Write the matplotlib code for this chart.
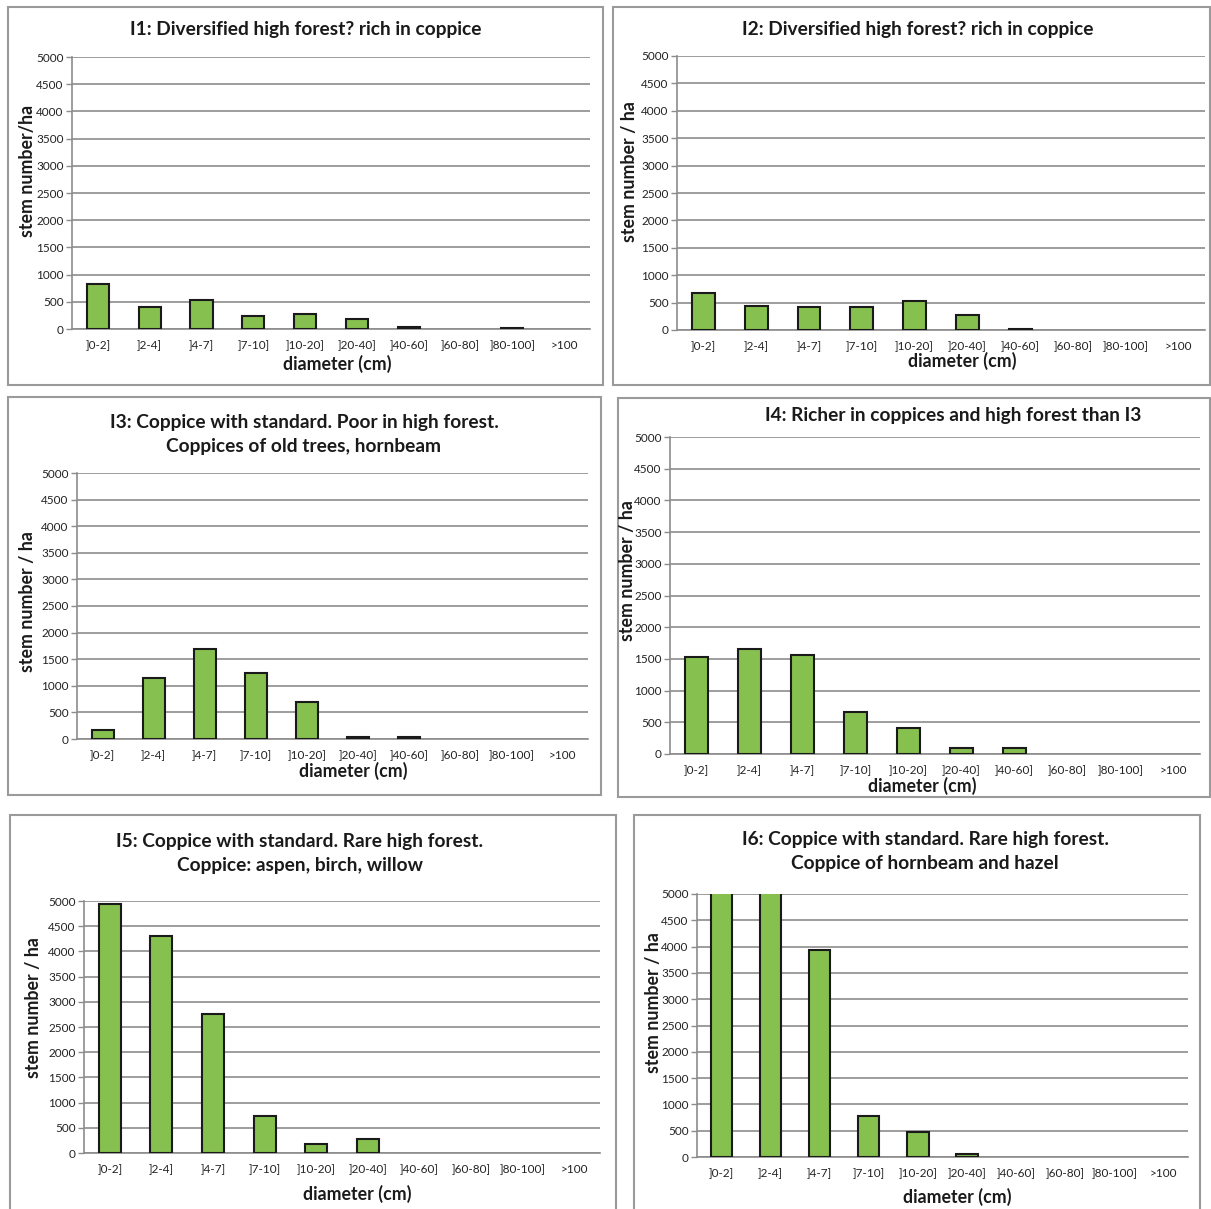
import numpy as np
import matplotlib
matplotlib.use("Agg")
import matplotlib.pyplot as plt
from matplotlib.patches import Rectangle

plt.rcParams['font.family'] = ['Lato', 'DejaVu Sans']

# diameter classes
classes = [']0-2]', ']2-4]', ']4-7]', ']7-10]', ']10-20]', ']20-40]',
           ']40-60]', ']60-80]', ']80-100]', '>100']

# stem number per ha
i1 = [830, 400, 540, 230, 280, 190, 40, 0, 15, 0]
i2 = [680, 440, 425, 425, 525, 280, 25, 0, 0, 0]
i3 = [160, 1150, 1690, 1240, 700, 30, 30, 0, 0, 0]
i4 = [1530, 1650, 1560, 670, 410, 90, 90, 0, 0, 0]
i5 = [4950, 4310, 2750, 730, 180, 270, 0, 0, 0, 0]
i6 = [5600, 5300, 3940, 780, 480, 60, 0, 0, 0, 0]   # first two go off the scale

titles = ['I1: Diversified high forest? rich in coppice',
          'I2: Diversified high forest? rich in coppice',
          'I3: Coppice with standard. Poor in high forest.\nCoppices of old trees, hornbeam',
          'I4: Richer in coppices and high forest than I3',
          'I5: Coppice with standard. Rare high forest.\nCoppice: aspen, birch, willow',
          'I6: Coppice with standard. Rare high forest.\nCoppice of hornbeam and hazel']
ylabels = ['stem number/ha', 'stem number / ha', 'stem number / ha',
           'stem number / ha', 'stem number / ha', 'stem number / ha']
yticks = [0, 500, 1000, 1500, 2000, 2500, 3000, 3500, 4000, 4500, 5000]

W, H = 1211, 1209
fig = plt.figure(figsize=(W / 100, H / 100), dpi=100)

def fx(x):
    return x / W

def fy(y):
    return 1 - y / H

# layout in pixels: axes (left, right, top, bottom), box (x0, y0, x1, y1),
# title centre (x, y), ylabel (x, y), xlabel (x, y)
layout = [
    dict(ax=(72, 590, 57, 329), box=(8, 7, 603, 385), t=(306, 30), yl=(27, 171), xl=(337, 364)),
    dict(ax=(677, 1205, 56, 330), box=(613, 7, 1210, 385), t=(918, 30), yl=(630, 172), xl=(962, 361)),
    dict(ax=(77, 588, 473, 739), box=(8, 397, 601, 795), t=(304, 434), yl=(27, 602), xl=(353, 771)),
    dict(ax=(670, 1200, 437, 754), box=(618, 398, 1210, 797), t=(953, 416), yl=(627, 571), xl=(922, 786)),
    dict(ax=(84, 600, 901, 1153), box=(10, 815, 616, 1215), t=(300, 854), yl=(34, 1008), xl=(357, 1194)),
    dict(ax=(697, 1188, 894, 1157), box=(634, 815, 1200, 1215), t=(925, 851), yl=(654, 1003), xl=(957, 1197)),
]

data = [i1, i2, i3, i4, i5, i6]
x = np.arange(len(classes))

for k in range(6):
    L = layout[k]
    l, r, t, b = L['ax']
    ax = fig.add_axes([fx(l), fy(b), fx(r - l), (b - t) / H])
    ax.set_axisbelow(True)
    ax.yaxis.grid(True, color='#8c8c8c', linewidth=1.2)
    lw = [1.5 if v > 0 else 0 for v in data[k]]
    ax.bar(x, data[k], width=0.43, color='#86c04e', edgecolor='#1a1a1a', linewidth=lw, zorder=3)
    ax.set_xlim(-0.5, 9.5)
    ax.set_ylim(0, 5000)
    ax.set_yticks(yticks)
    ax.set_xticks(x)
    ax.set_xticklabels(classes)
    ax.tick_params(axis='x', length=0, labelsize=8.5, pad=8, colors='#222222')
    ax.tick_params(axis='y', length=4, width=1, color='#8c8c8c', labelsize=8.5, pad=2, labelcolor='#222222')
    for s in ['top', 'right']:
        ax.spines[s].set_visible(False)
    ax.spines['left'].set_color('#8c8c8c')
    ax.spines['bottom'].set_color('#8c8c8c')
    ax.spines['left'].set_linewidth(1.2)
    ax.spines['bottom'].set_linewidth(1.2)

    x0, y0, x1, y1 = L['box']
    fig.patches.append(Rectangle((fx(x0), fy(y1)), fx(x1 - x0), (y1 - y0) / H,
                                 transform=fig.transFigure, fill=False,
                                 edgecolor='#9a9a9a', linewidth=1.5))
    fig.text(fx(L['t'][0]), fy(L['t'][1]), titles[k], ha='center', va='center',
             fontsize=13.8, fontweight='bold', color='#1a1a1a', linespacing=1.5)
    fig.text(fx(L['yl'][0]), fy(L['yl'][1]), ylabels[k], ha='center', va='center',
             rotation=90, fontsize=12.8, fontweight='bold', color='#1a1a1a')
    fig.text(fx(L['xl'][0]), fy(L['xl'][1]), 'diameter (cm)', ha='center', va='center',
             fontsize=12.8, fontweight='bold', color='#1a1a1a')

fig.savefig('out.png', dpi=100)
